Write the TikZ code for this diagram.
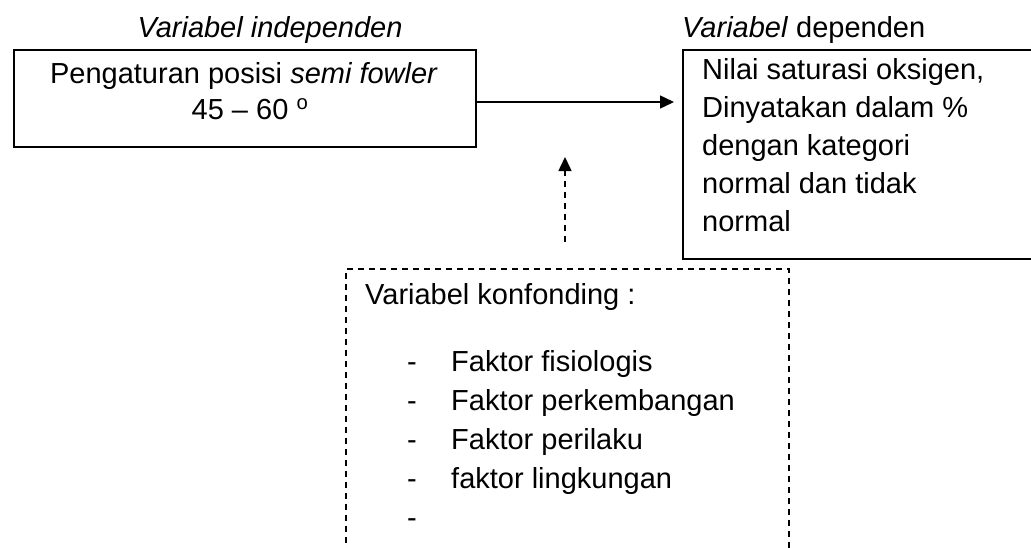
\documentclass[tikz,border=0pt]{standalone}
\usepackage{fontspec}
\setmainfont{Liberation Sans}
\usetikzlibrary{arrows.meta}
\begin{document}
\begin{tikzpicture}[x=1pt,y=-1pt,
  txt/.style={inner sep=0pt, font=\fontsize{29}{35}\selectfont},
  solidbox/.style={draw, line width=2pt, inner sep=0pt, anchor=north west},
  dashbox/.style={draw, line width=1.5pt, dash pattern=on 6pt off 5pt, inner sep=0pt, anchor=north west},
  arr/.style={line width=1.5pt, -{Triangle[length=14pt,width=13pt]}},
  darr/.style={line width=1.5pt, dash pattern=on 6pt off 5pt, -{Triangle[length=14pt,width=13pt]}}
]
\useasboundingbox (0,0) rectangle (1031,547);
\clip (0,0) rectangle (1031,547);

% boxes
\node[solidbox, minimum width=462pt, minimum height=97pt] (indep) at (13,49) {};
\node[solidbox, minimum width=400pt, minimum height=209pt] (dep) at (682,49) {};
\node[dashbox, minimum width=443pt, minimum height=320pt] (konf) at (345,268) {};

% headings
\node[txt, anchor=base] (lblind) at (270,37) {\itshape Variabel independen};
\node[txt, anchor=base west] (lbldep) at (682,37) {\textit{Variabel} dependen};

% independent box text
\node[txt, anchor=base] (ind1) at (244,83) {Pengaturan posisi \textit{semi fowler}};
\node[txt, anchor=base] (ind2) at (250,119) {45 – 60 \textsuperscript{o}};

% dependent box text
\node[txt, anchor=base west] (dep1) at (702,79) {Nilai saturasi oksigen,};
\node[txt, anchor=base west] (dep2) at (702,117) {Dinyatakan dalam \%};
\node[txt, anchor=base west] (dep3) at (702,155) {dengan kategori};
\node[txt, anchor=base west] (dep4) at (702,193) {normal dan tidak};
\node[txt, anchor=base west] (dep5) at (702,231) {normal};

% confounding box text
\node[txt, anchor=base west] (k0) at (365,304) {Variabel konfonding :};
\node[txt, anchor=base west] (d1) at (407,371) {-};
\node[txt, anchor=base west] (k1) at (451,371) {Faktor fisiologis};
\node[txt, anchor=base west] (d2) at (407,410) {-};
\node[txt, anchor=base west] (k2) at (451,410) {Faktor perkembangan};
\node[txt, anchor=base west] (d3) at (407,449) {-};
\node[txt, anchor=base west] (k3) at (451,449) {Faktor perilaku};
\node[txt, anchor=base west] (d4) at (407,488) {-};
\node[txt, anchor=base west] (k4) at (451,488) {faktor lingkungan};
\node[txt, anchor=base west] (d5) at (407,527) {-};

% connectors
\coordinate (mid) at (565,102);
\draw[arr, shorten >=8pt] (indep.east |- mid) -- (dep.west |- mid);
\draw[darr, shorten <=26pt, shorten >=55pt] (mid |- konf.north) -- (mid);
\end{tikzpicture}
\end{document}
